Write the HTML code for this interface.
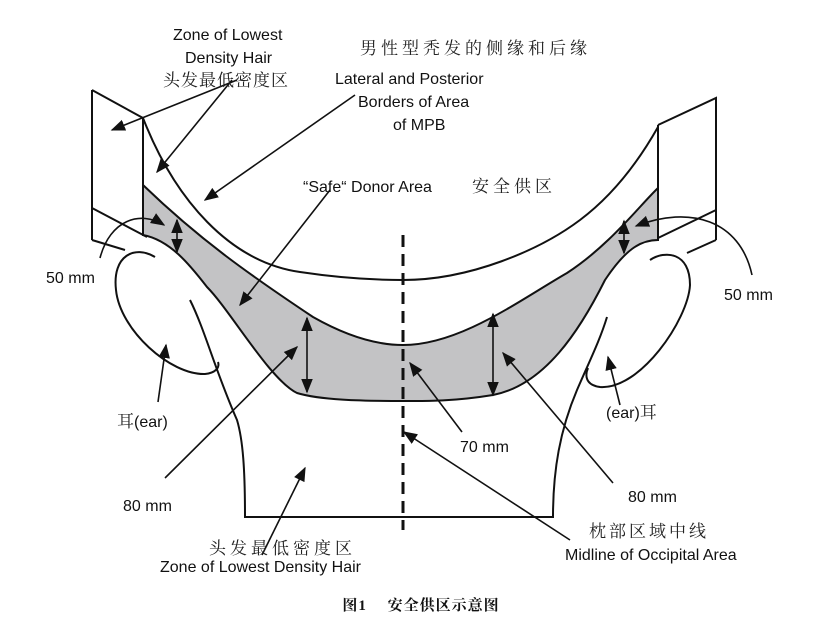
<!DOCTYPE html>
<html><head><meta charset="utf-8"><style>
body{margin:0;background:#fff;}
svg{display:block}
text{font-family:"Liberation Sans","Noto Sans CJK SC",sans-serif;fill:#111}
.cn{font-family:"Liberation Serif","Noto Serif CJK SC",serif;fill:#222}
</style></head><body>
<svg width="820" height="624" viewBox="0 0 820 624" xmlns="http://www.w3.org/2000/svg">
<defs><marker id="a" viewBox="0 0 10 10" refX="9" refY="5" markerWidth="9" markerHeight="9" orient="auto-start-reverse"><path d="M0,1 L10,5 L0,9 z" fill="#111"/></marker></defs>
<g fill="none" stroke="#111" stroke-width="2">
<path d="M143,185 C200,240 250,275 313,317 C350,338 380,345 403,345 C460,345 520,300 567,273 C610,245 640,205 658,188 L658,240 C640,240 625,250 605,280 C580,330 545,385 493,395 C450,402 420,401 403,401 C360,401 320,400 297,393 C270,380 230,310 207,287 C190,265 170,240 143,235 Z" fill="#c3c3c5"/>
<path d="M143,118 C175,200 230,262 300,272 C340,278 370,280 403,280 C470,280 540,250 580,220 C620,190 645,150 658,127"/>
<path d="M143,118 L143,236 M92,90 L143,118 M92,90 L92,240 M92,208 L147,237 M92,240 L125,250"/>
<path d="M658,125 L658,240 M658,125 L716,98 L716,240 M658,238 L716,210 M716,240 L687,253"/>
<path d="M190,300 C205,330 215,370 237,420 C243,440 245,470 245,517 L553,517 C553,470 560,430 577,390 C590,360 600,340 607,317"/>
<path d="M155,257 C135,245 112,255 116,290 C120,330 170,375 205,374 C215,373 220,368 218,362"/>
<path d="M650,260 C665,250 690,252 690,285 C688,320 640,390 600,387 C585,385 585,375 588,368"/>
</g>
<line x1="403" y1="235" x2="403" y2="530" stroke="#111" stroke-width="3" stroke-dasharray="12,7"/>
<g stroke="#111" stroke-width="1.6" fill="none" marker-end="url(#a)">
<line x1="237" y1="80" x2="112" y2="130"/>
<line x1="232" y1="80" x2="157" y2="172"/>
<line x1="355" y1="95" x2="205" y2="200"/>
<line x1="330" y1="190" x2="240" y2="305"/>
<path d="M100,258 C110,220 140,210 164,225"/>
<path d="M752,275 C740,220 690,205 636,226"/>
<line x1="177" y1="220" x2="177" y2="252" marker-start="url(#a)"/>
<line x1="307" y1="318" x2="307" y2="392" marker-start="url(#a)"/>
<line x1="493" y1="314" x2="493" y2="395" marker-start="url(#a)"/>
<line x1="624" y1="221" x2="624" y2="253" marker-start="url(#a)"/>
<line x1="462" y1="432" x2="410" y2="363"/>
<line x1="165" y1="478" x2="297" y2="347"/>
<line x1="613" y1="483" x2="503" y2="353"/>
<line x1="158" y1="402" x2="166" y2="345"/>
<line x1="620" y1="405" x2="608" y2="357"/>
<line x1="570" y1="540" x2="404" y2="432"/>
<line x1="262" y1="555" x2="305" y2="468"/>
</g>
<g font-size="16">
<text x="173" y="40">Zone of Lowest</text>
<text x="185" y="63">Density Hair</text>
<text x="335" y="84">Lateral and Posterior</text>
<text x="358" y="107">Borders of Area</text>
<text x="393" y="130">of MPB</text>
<text x="303" y="192">“Safe“ Donor Area</text>
<text x="46" y="283">50 mm</text>
<text x="724" y="300">50 mm</text>
<text x="460" y="452">70 mm</text>
<text x="123" y="511">80 mm</text>
<text x="628" y="502">80 mm</text>
<text x="160" y="572">Zone of Lowest Density Hair</text>
<text x="565" y="560">Midline of Occipital Area</text>
<text x="117" y="427"><tspan class="cn" font-size="17">耳</tspan>(ear)</text>
<text x="606" y="418">(ear)<tspan class="cn" font-size="17">耳</tspan></text>
</g>
<g font-size="17">
<text class="cn" x="163" y="86" letter-spacing="1">头发最低密度区</text>
<text class="cn" x="360" y="54" letter-spacing="4">男性型秃发的侧缘和后缘</text>
<text class="cn" x="472" y="192" letter-spacing="4">安全供区</text>
<text class="cn" x="209" y="554" letter-spacing="4">头发最低密度区</text>
<text class="cn" x="589" y="537" letter-spacing="3">枕部区域中线</text>
</g>
<text x="421" y="610" font-size="15" font-weight="bold" text-anchor="middle" letter-spacing="1" style="font-family:'Liberation Serif','Noto Serif CJK SC',serif">图1　 安全供区示意图</text>
</svg>
</body></html>
